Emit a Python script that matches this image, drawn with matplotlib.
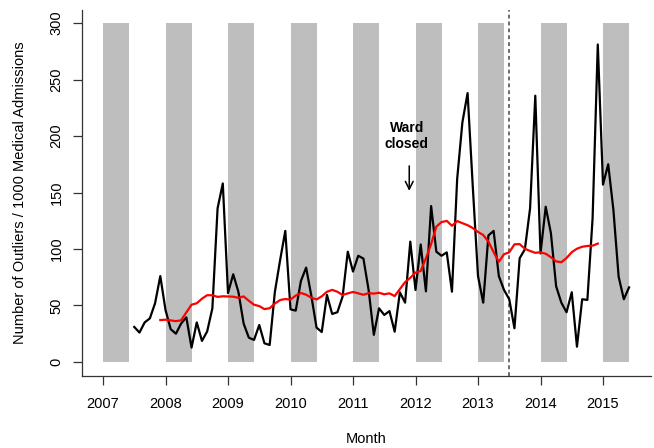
import matplotlib

matplotlib.use("Agg")
import matplotlib.pyplot as plt
from matplotlib.patches import Rectangle
import pandas as pd

plt.rcParams["font.family"] = ["Liberation Sans", "DejaVu Sans"]

# Monthly outlier rates, July 2007 to June 2015
months = pd.date_range("2007-07-01", periods=96, freq="MS")
outliers = [
    31, 26, 35, 38.6, 52, 76,
    46, 29, 25, 34, 39.5, 12.7, 35, 18.6, 27, 47.5, 136, 158,
    61, 77.6, 62, 34, 21.5, 19.5, 32.7, 16.5, 15, 62, 90, 116,
    46.6, 45.4, 71.7, 83.5, 58.5, 30.4, 26.5, 59.3, 42.5, 44, 57.8, 97.6,
    80, 94, 91.5, 63.7, 24, 47.5, 41.6, 45, 26.8, 61.7, 52.5, 106.5,
    63.7, 104, 62.5, 138, 97.6, 94, 97, 62.2, 162, 212, 238, 155,
    76, 52.5, 112, 116, 76, 63.7, 55.5, 29.8, 91.8, 99.7, 136, 235.7,
    96, 137.4, 113.9, 67, 52.5, 44, 61.7, 13.5, 55.5, 54.9, 127, 281,
    157, 175, 134.5, 75.5, 55.5, 66,
]

# Winter shading (January to May each year)
winter_years = list(range(2007, 2016))
winter_length = 5 / 12

year_ticks = list(range(2007, 2016))
rate_ticks = [0, 50, 100, 150, 200, 250, 300]

ward_closed = 2011.9
change_point = 2013.5

# Decimal year for each month
t = months.year + (months.month - 1) / 12.0

# 12 month moving average (window from 5 months before to 6 months after)
series = pd.Series(outliers, index=t)
moving_avg = series.rolling(12).mean().shift(-6)

fig = plt.figure(figsize=(6.54, 4.48), dpi=100)
ax = fig.add_axes([82 / 654, (448 - 375.5) / 448, (651 - 82) / 654, (375.5 - 9.5) / 448])

for yr in winter_years:
    ax.add_patch(
        Rectangle((yr, 0), winter_length, 300, facecolor="#bebebe", edgecolor="none", zorder=0)
    )

ax.plot(t, outliers, color="black", linewidth=1.6, zorder=3)
ax.plot(moving_avg.index, moving_avg.values, color="red", linewidth=1.6, zorder=4)

ax.axvline(change_point, color="#444444", linewidth=1.1, dashes=(2.5, 2), zorder=2)

# Annotation for the ward closure
ax.annotate(
    "",
    xy=(ward_closed, 149),
    xytext=(ward_closed, 176),
    arrowprops=dict(arrowstyle="->", color="black", lw=1.1, mutation_scale=14),
)
ax.text(ward_closed - 0.04, 200, "Ward\nclosed", ha="center", va="center",
        fontsize=10, fontweight="bold", linespacing=1.15)

ax.set_xlim(2007 - 21 / 62.5, 2007 + 548 / 62.5)
ax.set_ylim(-12, 312)

ax.set_xticks(year_ticks)
ax.set_xticklabels([str(y) for y in year_ticks])
ax.set_yticks(rate_ticks)
ax.set_yticklabels([str(v) for v in rate_ticks], rotation=90, va="center")
ax.tick_params(axis="both", length=6.8, width=0.9, labelsize=10.5, color="#333333")
ax.tick_params(axis="x", pad=9)
ax.tick_params(axis="y", pad=6.5)

for side in ["top", "right"]:
    ax.spines[side].set_visible(False)
for side in ["left", "bottom"]:
    ax.spines[side].set_linewidth(0.9)
    ax.spines[side].set_color("#333333")

ax.set_xlabel("Month", fontsize=10.5)
ax.xaxis.set_label_coords(0.5, -(432 - 375.5) / 366)
ax.set_ylabel("Number of Outliers / 1000 Medical Admissions", fontsize=10.5)
ax.yaxis.set_label_coords(-(82 - 27) / 569, 0.5)

fig.savefig("out.png", dpi=100)
